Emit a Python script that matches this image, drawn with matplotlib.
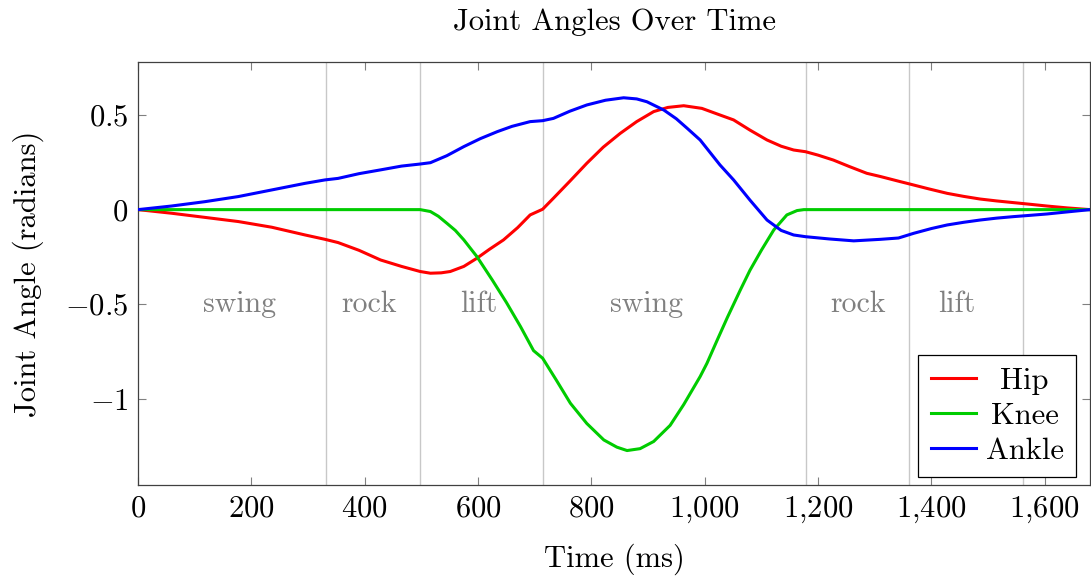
import matplotlib
matplotlib.use("Agg")
import matplotlib.pyplot as plt
from matplotlib.ticker import FuncFormatter, FixedLocator

plt.rcParams['font.family'] = 'serif'
plt.rcParams['font.serif'] = ['cmr10', 'DejaVu Serif']
plt.rcParams['mathtext.fontset'] = 'cm'
plt.rcParams['axes.unicode_minus'] = False

# ---- data ----
hip_t = [0, 59, 118, 177, 236, 295, 330, 353, 390, 428, 465, 498, 516, 535, 551, 575,
         598, 620, 645, 670, 692, 714, 733, 762, 792, 821, 851, 880, 910, 935, 963, 995,
         1027, 1051, 1080, 1110, 1135, 1157, 1178, 1200, 1227, 1255, 1286, 1310, 1345,
         1361, 1395, 1428, 1457, 1486, 1515, 1545, 1575, 1604, 1640, 1680]
hip_v = [0, -0.019, -0.041, -0.063, -0.093, -0.134, -0.157, -0.174, -0.215, -0.266,
         -0.300, -0.327, -0.336, -0.334, -0.327, -0.300, -0.257, -0.210, -0.160, -0.095,
         -0.028, 0.002, 0.060, 0.150, 0.245, 0.330, 0.403, 0.465, 0.518, 0.540, 0.549,
         0.535, 0.500, 0.474, 0.420, 0.368, 0.335, 0.315, 0.306, 0.288, 0.262, 0.228,
         0.192, 0.175, 0.148, 0.136, 0.110, 0.086, 0.070, 0.056, 0.046, 0.037, 0.028,
         0.019, 0.009, 0]

knee_t = [0, 250, 498, 516, 530, 545, 560, 575, 598, 625, 650, 675, 698, 714, 738, 763,
          792, 822, 845, 863, 886, 910, 939, 963, 992, 1004, 1022, 1040, 1063, 1080, 1100,
          1122, 1145, 1163, 1175, 1680]
knee_v = [0, 0, 0, -0.010, -0.035, -0.072, -0.110, -0.160, -0.248, -0.371, -0.490,
          -0.618, -0.745, -0.785, -0.900, -1.023, -1.130, -1.217, -1.255, -1.273, -1.263,
          -1.225, -1.140, -1.030, -0.882, -0.812, -0.690, -0.570, -0.424, -0.320, -0.215,
          -0.107, -0.028, -0.005, 0, 0]

ankle_t = [0, 59, 118, 177, 236, 295, 330, 353, 390, 428, 465, 498, 516, 545, 575, 604,
           634, 660, 692, 714, 733, 762, 792, 825, 857, 880, 898, 928, 950, 969, 992,
           1027, 1051, 1080, 1110, 1135, 1157, 1178, 1220, 1263, 1310, 1342, 1369, 1400,
           1428, 1457, 1486, 1515, 1545, 1575, 1604, 1640, 1680]
ankle_v = [0, 0.019, 0.042, 0.069, 0.104, 0.139, 0.157, 0.165, 0.190, 0.210, 0.230,
           0.241, 0.248, 0.285, 0.333, 0.375, 0.412, 0.440, 0.465, 0.470, 0.482, 0.520,
           0.553, 0.578, 0.591, 0.585, 0.570, 0.526, 0.480, 0.430, 0.368, 0.236, 0.157,
           0.050, -0.055, -0.110, -0.134, -0.143, -0.155, -0.165, -0.157, -0.150, -0.125,
           -0.100, -0.081, -0.067, -0.055, -0.045, -0.037, -0.030, -0.023, -0.012, 0]

phase_bounds = [332, 498, 714, 1178, 1361, 1562]
phase_labels = ["swing", "rock", "lift", "swing", "rock", "lift"]
phase_label_x = [180, 408, 602, 897, 1271, 1444]
phase_label_y = -0.5

x_ticks = [0, 200, 400, 600, 800, 1000, 1200, 1400, 1600]
y_ticks = [-1, -0.5, 0, 0.5]

FS = 22

# ---- figure ----
fig = plt.figure(figsize=(10.91, 5.80), dpi=100)
ax = fig.add_axes([0.1265, 0.1638, 0.8726, 0.7293])

for b in phase_bounds:
    ax.axvline(b, color='#c8c8c8', lw=1.0, zorder=1)

for lab, lx in zip(phase_labels, phase_label_x):
    ax.text(lx, phase_label_y, lab, color='#808080', fontsize=21.5,
            ha='center', va='center', zorder=2)

ax.plot(hip_t, hip_v, color='#ff0000', lw=2.2, label='Hip', zorder=3)
ax.plot(knee_t, knee_v, color='#00cc00', lw=2.2, label='Knee', zorder=3)
ax.plot(ankle_t, ankle_v, color='#0000ff', lw=2.2, label='Ankle', zorder=3)

ax.set_xlim(0, 1680)
ax.set_ylim(-1.455, 0.78)

ax.xaxis.set_major_locator(FixedLocator(x_ticks))
ax.yaxis.set_major_locator(FixedLocator(y_ticks))

def xfmt(v, pos):
    s = f"{int(round(v)):,}"
    return "$" + s.replace(",", "{,}") + "$"

def yfmt(v, pos):
    s = f"{v:g}"
    return "$" + s + "$"

ax.xaxis.set_major_formatter(FuncFormatter(xfmt))
ax.yaxis.set_major_formatter(FuncFormatter(yfmt))

ax.tick_params(axis='both', direction='in', top=True, right=True, length=6,
               width=0.8, color='#808080', labelsize=FS, pad=7)

for s in ax.spines.values():
    s.set_color('#404040')
    s.set_linewidth(0.9)

ax.set_xlabel('Time (ms)', fontsize=FS, labelpad=13)
ax.set_ylabel('Joint Angle (radians)', fontsize=FS, labelpad=15)
ax.set_title('Joint Angles Over Time', fontsize=FS, pad=23)

leg = ax.legend(loc='lower right', bbox_to_anchor=(0.985, 0.018), fontsize=FS,
                frameon=True, fancybox=False, edgecolor='black', framealpha=1,
                handlelength=1.5, borderpad=0.4, labelspacing=0.25, handletextpad=0.3,
                borderaxespad=0.0)
leg.get_frame().set_linewidth(0.9)

# centre the legend labels
fig.canvas.draw()
texts = leg.get_texts()
ws = [t.get_window_extent().width for t in texts]
wmax = max(ws)
for t, w in zip(texts, ws):
    t.set_x((wmax - w) / 2.0)

fig.savefig('out.png', dpi=100)
